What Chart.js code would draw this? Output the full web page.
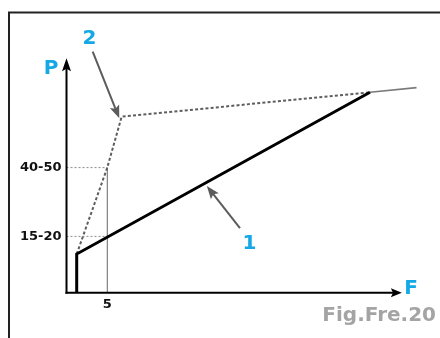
<!DOCTYPE html>
<html>
<head>
<meta charset="utf-8">
<script src="https://cdn.jsdelivr.net/npm/chart.js@4.4.0/dist/chart.umd.min.js"></script>
<style>
  html, body { margin: 0; padding: 0; background: #fff; }
  #wrap { width: 440px; height: 338px; }
</style>
</head>
<body>
<div id="wrap"><canvas id="canvasFig"></canvas></div>
<script>
// courbe 1 (trait plein) : F en abscisse, P en ordonnée
const courbe1F = [1.25, 1.25, 37.2]
const courbe1P = [0, 16.5, 85.5]
// prolongement après la jonction des deux courbes
const finF = [37.2, 42.9]
const finP = [85.5, 87.5]
// courbe 2 (pointillés)
const courbe2F = [1.25, 5, 6.76, 37.2]
const courbe2P = [16.5, 53.4, 75.1, 85.5]
// graduations
const ticksF = [5]
const labelsF = ["5"]
const ticksP = [24, 53.4]
const labelsP = ["15-20", "40-50"]
// bornes des axes (flèches)
const maxAxeF = 41.1
const maxAxeP = 100
// flèches de repère des courbes : [F départ, P départ, F pointe, P pointe]
const fleche1 = [21.26, 27.5, 17.2, 45.5]
const fleche2 = [3.21, 102.8, 6.47, 74.4]

const bleu = "#14a8e6"
const police = "'DejaVu Sans', sans-serif"

function points(xs, ys) {
    return xs.map((x, i) => ({x: x, y: ys[i]}))
}

function fleche(ctx, x1, y1, x2, y2, longueur, largeur, couleur, epaisseur) {
    let a = Math.atan2(y2 - y1, x2 - x1)
    ctx.save()
    ctx.strokeStyle = couleur
    ctx.fillStyle = couleur
    ctx.lineWidth = epaisseur
    ctx.beginPath()
    ctx.moveTo(x1, y1)
    ctx.lineTo(x2 - Math.cos(a) * longueur * 0.7, y2 - Math.sin(a) * longueur * 0.7)
    ctx.stroke()
    ctx.translate(x2, y2)
    ctx.rotate(a)
    ctx.beginPath()
    ctx.moveTo(0, 0)
    ctx.lineTo(-longueur, -largeur / 2)
    ctx.lineTo(-longueur * 0.8, 0)
    ctx.lineTo(-longueur, largeur / 2)
    ctx.closePath()
    ctx.fill()
    ctx.restore()
}

const pluginDecor = {
    id: "decor",
    beforeDraw(chart) {
        let ctx = chart.ctx
        ctx.save()
        ctx.fillStyle = "#fff"
        ctx.fillRect(0, 0, chart.width, chart.height)
        // cadre
        ctx.strokeStyle = "#222"
        ctx.lineWidth = 2
        ctx.beginPath()
        ctx.moveTo(9, chart.height)
        ctx.lineTo(9, 12.5)
        ctx.lineTo(chart.width, 12.5)
        ctx.stroke()
        ctx.restore()
    },
    beforeDatasetsDraw(chart) {
        let ctx = chart.ctx
        let sx = chart.scales.x
        let sy = chart.scales.y
        ctx.save()
        // repères en pointillés
        ctx.strokeStyle = "#9a9a9a"
        ctx.lineWidth = 1.2
        ctx.setLineDash([2, 2])
        ticksP.forEach(v => {
            ctx.beginPath()
            ctx.moveTo(sx.getPixelForValue(0), sy.getPixelForValue(v))
            ctx.lineTo(sx.getPixelForValue(ticksF[0]), sy.getPixelForValue(v))
            ctx.stroke()
        })
        // verticale à F = 5
        ctx.setLineDash([])
        ctx.strokeStyle = "#666"
        ctx.lineWidth = 1
        ctx.beginPath()
        ctx.moveTo(sx.getPixelForValue(ticksF[0]), sy.getPixelForValue(0))
        ctx.lineTo(sx.getPixelForValue(ticksF[0]), sy.getPixelForValue(ticksP[1]))
        ctx.stroke()
        ctx.restore()
    },
    afterDatasetsDraw(chart) {
        let ctx = chart.ctx
        let sx = chart.scales.x
        let sy = chart.scales.y
        let x0 = sx.getPixelForValue(0)
        let y0 = sy.getPixelForValue(0)
        // axes
        fleche(ctx, x0, y0 + 1, x0, sy.getPixelForValue(maxAxeP), 13, 9, "#000", 2)
        fleche(ctx, x0 - 1, y0, sx.getPixelForValue(maxAxeF), y0, 11, 9, "#000", 2)
        // flèches 1 et 2
        fleche(ctx, sx.getPixelForValue(fleche1[0]), sy.getPixelForValue(fleche1[1]),
            sx.getPixelForValue(fleche1[2]), sy.getPixelForValue(fleche1[3]), 13, 10, "#5c5c5c", 2)
        fleche(ctx, sx.getPixelForValue(fleche2[0]), sy.getPixelForValue(fleche2[1]),
            sx.getPixelForValue(fleche2[2]), sy.getPixelForValue(fleche2[3]), 13, 10, "#5c5c5c", 2)
        // textes
        ctx.save()
        ctx.font = "bold 20px " + police
        ctx.fillStyle = bleu
        ctx.textAlign = "center"
        ctx.textBaseline = "alphabetic"
        ctx.fillText("P", 51, 74)
        ctx.fillText("2", 89.5, 43.5)
        ctx.fillText("1", 249.5, 248.5)
        ctx.fillText("F", 411, 293.5)
        ctx.fillStyle = "#a4a4a4"
        ctx.textAlign = "right"
        ctx.fillText("Fig.Fre.20", 436, 321)
        ctx.restore()
    }
}

function creerFigure() {
    let canvas = document.getElementById("canvasFig")
    new Chart(canvas, {
        type: "scatter",
        data: {
            datasets: [
                {
                    label: "2",
                    data: points(courbe2F, courbe2P),
                    showLine: true,
                    borderColor: "#5e5e5e",
                    borderWidth: 2,
                    borderDash: [3, 2.2],
                    pointRadius: 0,
                    order: 2
                },
                {
                    label: "1",
                    data: points(courbe1F, courbe1P),
                    showLine: true,
                    borderColor: "#000",
                    borderWidth: 3,
                    pointRadius: 0,
                    order: 1
                },
                {
                    label: "fin",
                    data: points(finF, finP),
                    showLine: true,
                    borderColor: "#7a7a7a",
                    borderWidth: 1.6,
                    pointRadius: 0,
                    order: 3
                }
            ]
        },
        options: {
            responsive: true,
            maintainAspectRatio: false,
            animation: false,
            layout: { padding: { top: 58.3, right: 14.5, left: 0, bottom: 0 } },
            plugins: {
                legend: { display: false },
                tooltip: { enabled: false }
            },
            scales: {
                x: {
                    type: "linear",
                    min: 0,
                    max: 44,
                    grid: { display: false, drawTicks: false },
                    border: { display: false },
                    afterBuildTicks: (s) => { s.ticks = ticksF.map(v => ({value: v})) },
                    afterFit: (s) => { s.height = 338 - 292.7 },
                    ticks: {
                        autoSkip: false,
                        maxRotation: 0,
                        padding: 4,
                        color: "#111",
                        font: { family: police, size: 13, weight: "bold" },
                        callback: (v, i) => labelsF[i]
                    }
                },
                y: {
                    type: "linear",
                    min: 0,
                    max: 100,
                    grid: { display: false, drawTicks: false },
                    border: { display: false },
                    afterBuildTicks: (s) => { s.ticks = ticksP.map(v => ({value: v})) },
                    afterFit: (s) => { s.width = 66.5 },
                    ticks: {
                        autoSkip: false,
                        padding: 5,
                        color: "#111",
                        font: { family: police, size: 13, weight: "bold" },
                        callback: (v, i) => labelsP[i]
                    }
                }
            }
        },
        plugins: [pluginDecor]
    })
}

creerFigure()
</script>
</body>
</html>
